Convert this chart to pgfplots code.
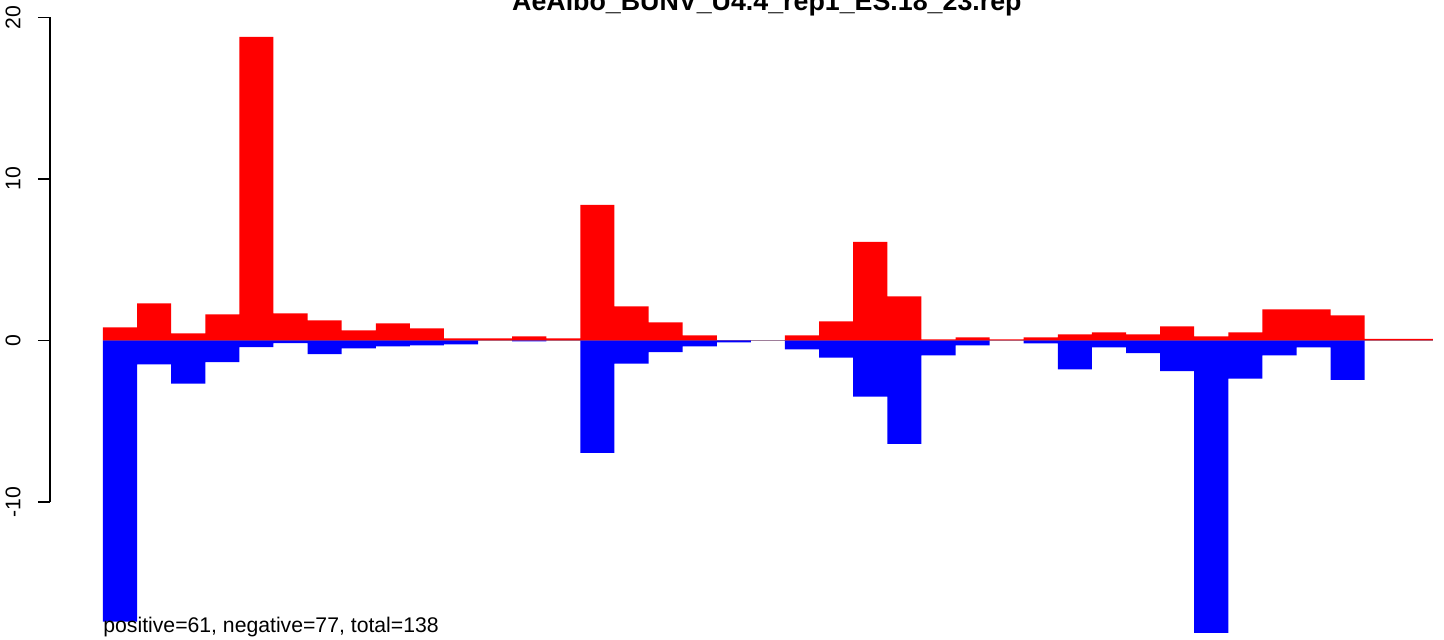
\documentclass[border=0pt]{standalone}
\usepackage{fontspec}
\setmainfont{Liberation Sans}
\usepackage{pgfplots}
\pgfplotsset{compat=1.18}
\begin{document}
\begin{tikzpicture}
\begin{axis}[
  scale only axis,
  width=697pt, height=320pt,
  xmin=-1.554, xmax=39.326,
  ymin=-18.55, ymax=21.08,
  axis x line=none,
  axis y line=left,
  y axis line style={draw=none},
  ytick={-10,0,10,20},
  tick align=outside,
  major tick length=6pt,
  every tick/.style={black, line width=0.9pt},
  yticklabel style={xshift=-8.5pt, rotate=90, anchor=south, inner sep=0pt, font=\fontsize{10.6}{12}\selectfont},
  /pgf/number format/assume math mode=true,
  clip=false,
]
\addplot[gray!70, line width=0.9pt] coordinates {(0,0) (39,0)};
\addplot[ybar interval, fill=blue, draw=none] coordinates {
(0,-17.41) (1,-1.49) (2,-2.67) (3,-1.35) (4,-0.41) (5,-0.17) (6,-0.85) (7,-0.50)
(8,-0.37) (9,-0.31) (10,-0.25) (11,0) (12,-0.06) (13,0) (14,-6.97) (15,-1.43)
(16,-0.72) (17,-0.37) (18,-0.12) (19,0) (20,-0.56) (21,-1.06) (22,-3.48) (23,-6.41)
(24,-0.93) (25,-0.31) (26,0) (27,-0.19) (28,-1.80) (29,-0.43) (30,-0.79) (31,-1.90)
(32,-18.11) (33,-2.36) (34,-0.93) (35,-0.43) (36,-2.45) (37,0) (38,0) (39,0)};
\addplot[ybar interval, fill=red, draw=none] coordinates {
(0,0.81) (1,2.30) (2,0.43) (3,1.61) (4,18.79) (5,1.68) (6,1.24) (7,0.62)
(8,1.06) (9,0.75) (10,0.12) (11,0.12) (12,0.25) (13,0.12) (14,8.39) (15,2.11)
(16,1.12) (17,0.31) (18,0) (19,0) (20,0.31) (21,1.18) (22,6.10) (23,2.73)
(24,0.06) (25,0.19) (26,0.06) (27,0.19) (28,0.37) (29,0.50) (30,0.37) (31,0.87)
(32,0.25) (33,0.50) (34,1.93) (35,1.93) (36,1.55) (37,0.1) (38,0.1) (39,0)};
\draw[line width=0.9pt] (axis cs:-1.554,-10) -- (axis cs:-1.554,20);
\node[anchor=base, font=\bfseries\fontsize{13.4}{16}\selectfont] at (axis cs:19.47,20.4) {AeAlbo\_BUNV\_U4.4\_rep1\_ES.18\_23.rep};
\node[anchor=base west, inner sep=0pt, font=\fontsize{10.6}{12}\selectfont] at (axis cs:0,-18.07) {positive=61, negative=77, total=138};
\end{axis}
\pgfresetboundingbox
\path[use as bounding box] ([xshift=-25pt]current axis.south west) rectangle (current axis.north east);
\end{tikzpicture}
\end{document}
